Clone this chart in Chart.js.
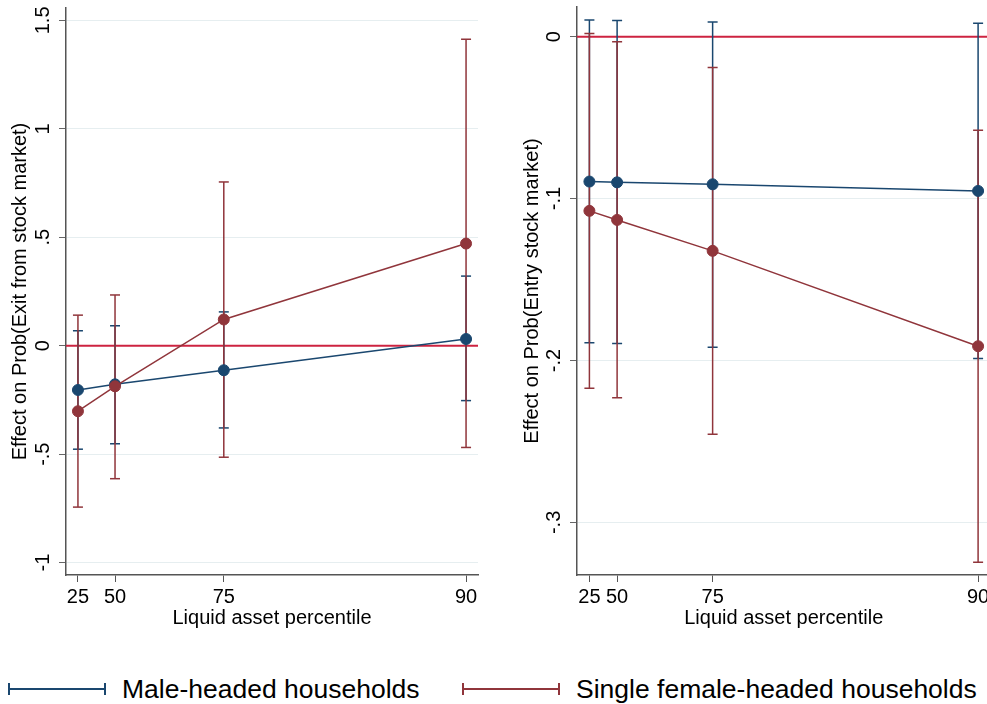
<!DOCTYPE html>
<html>
<head>
<meta charset="utf-8">
<script src="https://cdn.jsdelivr.net/npm/chart.js@4.4.1/dist/chart.umd.min.js"></script>
<style>
  html, body { margin:0; padding:0; background:#fff; width:987px; height:704px; overflow:hidden; position:relative; }
  .panel { position:absolute; top:0; height:640px; }
  #exitPanel { left:0; width:490px; }
  #entryPanel { left:500px; width:497px; }
  .legend-item { position:absolute; top:674px; height:30px; display:flex; align-items:center;
    font:26.5px "Liberation Sans", Arial, Helvetica, sans-serif; color:#000; white-space:nowrap; }
  .legend-item svg { margin-right:16px; }
</style>
</head>
<body>
<div class="panel" id="exitPanel"><canvas id="exitChart" width="490" height="640"></canvas></div>
<div class="panel" id="entryPanel"><canvas id="entryChart" width="497" height="640"></canvas></div>
<div id="legend"></div>
<script>
const percentiles = ['25', '50', '75', '90'];
// where each percentile sits on the liquid-asset axis (axis runs 0-100)
const exitAssetPos  = [2.9, 11.9, 38.3, 97.1];
const entryAssetPos = [3.0, 9.7, 32.8, 97.0];

// exit from stock market
const exitMale     = [-0.204, -0.178, -0.113, 0.031];
const exitMaleLo   = [-0.477, -0.452, -0.379, -0.253];
const exitMaleHi   = [0.069, 0.092, 0.156, 0.321];
const exitFemale   = [-0.302, -0.187, 0.121, 0.471];
const exitFemaleLo = [-0.744, -0.613, -0.514, -0.469];
const exitFemaleHi = [0.141, 0.234, 0.755, 1.413];

// entry into stock market
const entryMale     = [-0.0895, -0.0900, -0.0912, -0.0953];
const entryMaleLo   = [-0.1890, -0.1895, -0.1918, -0.1988];
const entryMaleHi   = [0.0103, 0.0099, 0.0091, 0.0082];
const entryFemale   = [-0.1076, -0.1132, -0.1323, -0.1912];
const entryFemaleLo = [-0.2171, -0.2230, -0.2455, -0.3247];
const entryFemaleHi = [0.0019, -0.0031, -0.0191, -0.0578];

const exitTicks = [-1, -0.5, 0, 0.5, 1, 1.5];
const exitTickLabels = ['-1', '-.5', '0', '.5', '1', '1.5'];
const entryTicks = [-0.3, -0.2, -0.1, 0];
const entryTickLabels = ['-.3', '-.2', '-.1', '0'];

const seriesNames = ['Male-headed households', 'Single female-headed households'];
const BLUE = '#1a476f', MAROON = '#90353b', ZERO = '#cd2340';
const FONT = '"Liberation Sans", Arial, Helvetica, sans-serif';

Chart.defaults.font.family = FONT;
Chart.defaults.color = '#000';

// vertical whiskers: low/high pairs split by nulls
function ciPoints(xs, lo, hi){
  const pts = [];
  xs.forEach((x, i) => { pts.push({x:x, y:lo[i]}, {x:x, y:hi[i]}, {x:x, y:null}); });
  return pts;
}
function estPoints(xs, ys){ return xs.map((x, i) => ({x:x, y:ys[i]})); }

function ciSet(data, color, order){
  return { data, order, borderColor:color, borderWidth:1.5, spanGaps:false,
    pointStyle:'line', pointRadius:5, pointBorderColor:color, pointBorderWidth:1.5 };
}
function estSet(data, color, order){
  return { data, order, borderColor:color, borderWidth:1.5,
    pointStyle:'circle', pointRadius:5.5, pointBackgroundColor:color, pointBorderColor:color, pointBorderWidth:1 };
}

function makePanel(id, cfg){
  new Chart(document.getElementById(id), {
    type:'line',
    data:{ datasets:[
      { data:[{x:0, y:0}, {x:100, y:0}], order:10, borderColor:ZERO, borderWidth:2, pointRadius:0 },
      ciSet(ciPoints(cfg.xs, cfg.maleLo, cfg.maleHi), BLUE, 9),
      ciSet(ciPoints(cfg.xs, cfg.femaleLo, cfg.femaleHi), MAROON, 8),
      estSet(estPoints(cfg.xs, cfg.male), BLUE, 7),
      estSet(estPoints(cfg.xs, cfg.female), MAROON, 6)
    ]},
    options:{
      responsive:false, animation:false, events:[],
      layout:{ padding:{ top:cfg.padTop, right:cfg.padRight, bottom:0, left:0 } },
      plugins:{ legend:{display:false}, tooltip:{enabled:false} },
      scales:{
        x:{
          type:'linear', min:0, max:100,
          afterBuildTicks: s => { s.ticks = cfg.xs.map(v => ({value:v})); },
          afterFit: s => { s.height = 65; s.paddingLeft = 0; s.paddingRight = 0; },
          ticks:{ autoSkip:false, maxRotation:0, padding:3, font:{size:20}, color:'#000',
            callback:(v, i) => percentiles[i] },
          grid:{ drawOnChartArea:false, tickColor:'#555', tickLength:7, tickWidth:1 },
          border:{ color:'#555', width:1.5 },
          title:{ display:true, text:'Liquid asset percentile', font:{size:20}, color:'#000', padding:{top:0, bottom:10} }
        },
        y:{
          min:cfg.yMin, max:cfg.yMax,
          afterBuildTicks: s => { s.ticks = cfg.ticks.map(v => ({value:v})); },
          afterFit: s => { s.width = cfg.axisWidth; s.paddingTop = 0; s.paddingBottom = 0; },
          ticks:{ autoSkip:false, minRotation:90, maxRotation:90, crossAlign:'center', padding:cfg.tickPad,
            font:{size:20}, color:'#000', callback:(v, i) => cfg.tickLabels[i] },
          grid:{ color:'#e6eef0', lineWidth:1, tickColor:'#666', tickLength:7, tickWidth:1 },
          border:{ color:'#555', width:1.5 },
          title:{ display:true, text:cfg.title, font:{size:20}, color:'#000', padding:{top:cfg.titlePad, bottom:0} }
        }
      }
    }
  });
}

makePanel('exitChart', {
  xs:exitAssetPos, male:exitMale, maleLo:exitMaleLo, maleHi:exitMaleHi,
  female:exitFemale, femaleLo:exitFemaleLo, femaleHi:exitFemaleHi,
  yMin:-1.057, yMax:1.557, ticks:exitTicks, tickLabels:exitTickLabels,
  title:'Effect on Prob(Exit from stock market)',
  axisWidth:66, tickPad:2, titlePad:8, padTop:8, padRight:12
});
makePanel('entryChart', {
  xs:entryAssetPos, male:entryMale, maleLo:entryMaleLo, maleHi:entryMaleHi,
  female:entryFemale, femaleLo:entryFemaleLo, femaleHi:entryFemaleHi,
  yMin:-0.3325, yMax:0.0183, ticks:entryTicks, tickLabels:entryTickLabels,
  title:'Effect on Prob(Entry stock market)',
  axisWidth:77, tickPad:4, titlePad:20, padTop:7, padRight:0
});

// shared legend under both panels
const legend = document.getElementById('legend');
const legendLeft = [8, 462];
[BLUE, MAROON].forEach((c, i) => {
  const item = document.createElement('div');
  item.className = 'legend-item';
  item.style.left = legendLeft[i] + 'px';
  item.innerHTML = '<svg width="98" height="14"><line x1="1" y1="7" x2="97" y2="7" stroke="' + c + '" stroke-width="2"/>' +
    '<line x1="1" y1="1" x2="1" y2="13" stroke="' + c + '" stroke-width="2"/>' +
    '<line x1="97" y1="1" x2="97" y2="13" stroke="' + c + '" stroke-width="2"/></svg>' +
    '<span>' + seriesNames[i] + '</span>';
  legend.appendChild(item);
});
</script>
</body>
</html>
